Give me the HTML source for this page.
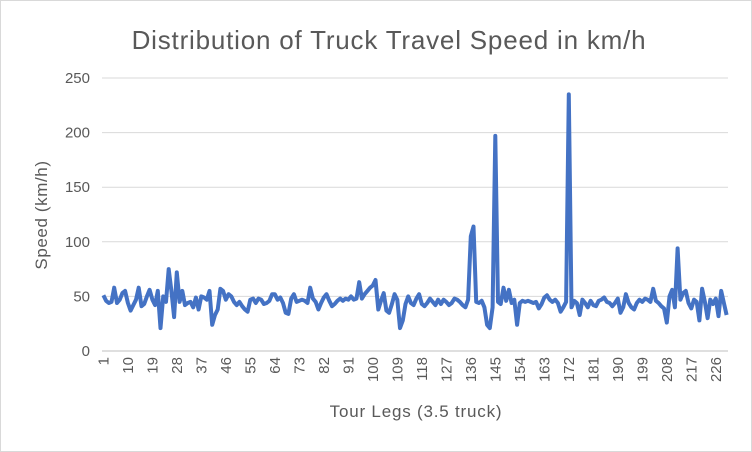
<!DOCTYPE html>
<html><head><meta charset="utf-8"><style>
body{margin:0;background:#fff}
svg{display:block;font-family:"Liberation Sans",sans-serif}
</style></head><body>
<svg width="752" height="452">
<rect x="0.5" y="0.5" width="751" height="451" fill="#fff" stroke="#d9d9d9"/>
<text x="389" y="49" text-anchor="middle" font-size="26" letter-spacing="0.8" fill="#595959">Distribution of Truck Travel Speed in km/h</text>
<g id="grid"></g><g id="yticks"></g><g id="xticks"></g>
<text transform="translate(47,215) rotate(-90)" text-anchor="middle" font-size="17" letter-spacing="0.6" fill="#595959">Speed (km/h)</text>
<text x="416" y="417" text-anchor="middle" font-size="17" letter-spacing="0.8" fill="#595959">Tour Legs (3.5 truck)</text>
<path id="line" fill="none" stroke="#4472C4" stroke-width="4" stroke-linejoin="round"/>
</svg>
<script>
const speeds=[51,46,44,45,58,44,47,53,55,44,
37,42,47,58,41,43,50,56,47,42,
55,21,50,45,75,55,31,72,45,55,
42,44,45,40,49,38,50,49,47,55,
24,33,38,57,55,47,52,50,45,42,
45,41,38,36,47,48,44,48,47,43,
44,46,52,52,47,49,44,35,34,48,
52,45,46,47,46,44,58,48,45,38,
44,49,52,46,41,43,46,48,46,48,
47,50,47,48,63,48,52,55,58,60,
65,38,46,53,37,35,43,52,47,21,
28,43,50,44,42,48,52,43,41,44,
48,45,42,47,43,47,45,42,44,48,
47,45,42,40,47,105,114,45,44,46,
40,24,21,40,197,45,43,58,46,56,
44,47,24,44,46,45,46,45,44,45,
39,43,49,51,47,45,47,44,36,40,
45,235,40,46,44,33,47,44,40,46,
42,41,46,47,49,45,44,41,44,48,
35,40,52,44,40,38,44,47,45,48,
47,45,57,46,44,41,39,26,50,56,
40,94,47,53,55,44,39,47,45,28,
57,45,30,47,43,48,32,55,44,33];
const yTicks=[0,50,100,150,200,250];
const NS="http://www.w3.org/2000/svg";
const x0=102,x1=728,y0=351,yTop=78,yMax=250;
const N=speeds.length,step=(x1-x0)/N;
const X=i=>x0+step*(i+0.5);
const Y=v=>y0-(v/yMax)*(y0-yTop);
const grid=document.getElementById('grid'),yt=document.getElementById('yticks'),xt=document.getElementById('xticks');
yTicks.forEach(t=>{
  const l=document.createElementNS(NS,'line');
  l.setAttribute('x1',x0);l.setAttribute('x2',x1);l.setAttribute('y1',Y(t));l.setAttribute('y2',Y(t));
  l.setAttribute('stroke',t===0?'#bfbfbf':'#d9d9d9');l.setAttribute('stroke-width',1);
  
  
  grid.appendChild(l);
  const tx=document.createElementNS(NS,'text');
  tx.setAttribute('x',90);tx.setAttribute('y',Y(t)+5);tx.setAttribute('text-anchor','end');
  tx.setAttribute('font-size',15);tx.setAttribute('fill','#595959');tx.textContent=t;
  
  
  yt.appendChild(tx);
});
for(let i=0;i<N;i+=9){
  const tx=document.createElementNS(NS,'text');
  const cx=X(i)+5;
  tx.setAttribute('transform','translate('+cx+',357) rotate(-90)');
  tx.setAttribute('text-anchor','end');tx.setAttribute('font-size',15);tx.setAttribute('fill','#595959');
  tx.textContent=i+1;
  
  
  xt.appendChild(tx);
}
document.getElementById('line').setAttribute('d',speeds.map((v,i)=>(i?'L':'M')+X(i).toFixed(1)+' '+Y(v).toFixed(1)).join(''));
</script>
</body></html>
